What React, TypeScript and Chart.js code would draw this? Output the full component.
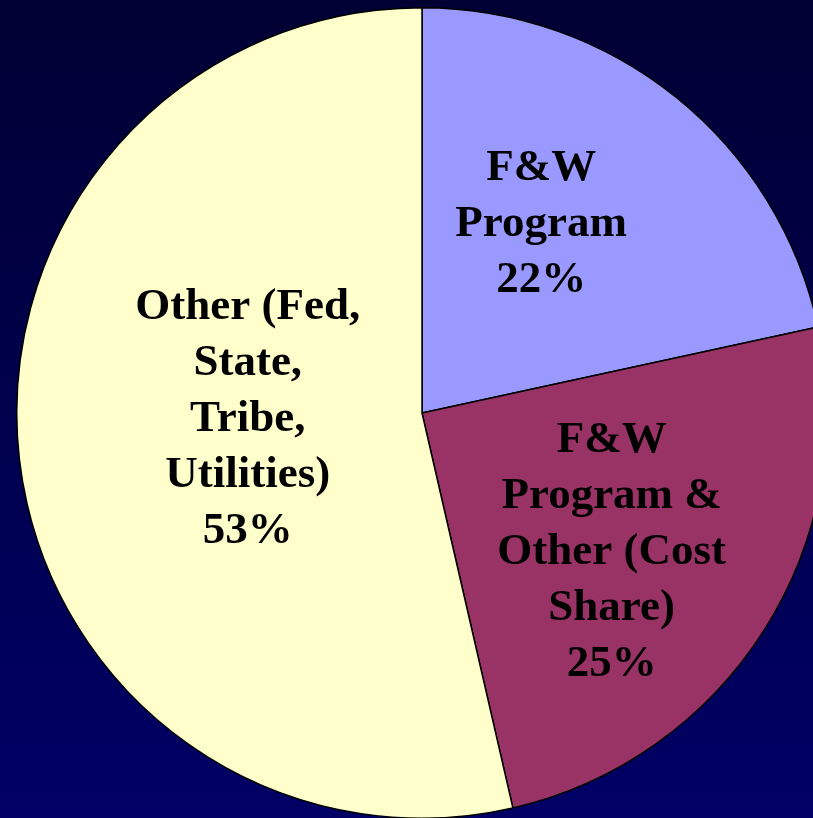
import React, { useEffect, useRef } from "react";
import { Chart, registerables } from "chart.js";

Chart.register(...registerables);

const categories: string[][] = [
  ["F&W", "Program"],
  ["F&W", "Program &", "Other (Cost", "Share)"],
  ["Other (Fed,", "State,", "Tribe,", "Utilities)"],
];
const values: number[] = [21.6, 24.8, 53.6];
const percentLabels: string[] = ["22%", "25%", "53%"];
const colors: string[] = ["#9999FF", "#993366", "#FFFFCC"];
// label anchor offsets, as fractions of the radius from the centre
const labelOffsets: [number, number][] = [
  [0.294, -0.465],
  [0.468, 0.345],
  [-0.43, 0.015],
];

const labelPlugin = {
  id: "sliceLabels",
  afterDatasetsDraw(chart: any) {
    const ctx = chart.ctx;
    const meta = chart.getDatasetMeta(0);
    ctx.save();
    ctx.font = "bold 45px 'Liberation Serif', 'Times New Roman', serif";
    ctx.fillStyle = "#000000";
    ctx.textAlign = "center";
    ctx.textBaseline = "middle";
    const lineH = 56;
    meta.data.forEach((arc: any, i: number) => {
      const { x, y, outerRadius } = arc.getProps(["x", "y", "outerRadius"], true);
      const lines = [...categories[i], percentLabels[i]];
      const cx = x + labelOffsets[i][0] * outerRadius;
      const cy = y + labelOffsets[i][1] * outerRadius;
      const startY = cy - ((lines.length - 1) * lineH) / 2;
      lines.forEach((t, k) => ctx.fillText(t, cx, startY + k * lineH));
    });
    ctx.restore();
  },
};

export default function App() {
  const ref = useRef<HTMLCanvasElement | null>(null);
  useEffect(() => {
    if (!ref.current) return;
    const chart = new Chart(ref.current, {
      type: "pie",
      data: {
        labels: categories.map((c) => c.join(" ")),
        datasets: [
          {
            data: values,
            backgroundColor: colors,
            borderColor: "#000000",
            borderWidth: 1.5,
            hoverOffset: 0,
          },
        ],
      },
      options: {
        responsive: false,
        animation: false,
        layout: { padding: 0 },
        plugins: {
          legend: { display: false },
          tooltip: { enabled: false },
        },
      },
      plugins: [labelPlugin],
    });
    return () => chart.destroy();
  }, []);
  return (
    <div
      style={{
        position: "fixed",
        left: 0,
        top: 0,
        width: 813,
        height: 818,
        overflow: "hidden",
        background: "linear-gradient(to bottom, #000033, #000066)",
      }}
    >
      <canvas
        ref={ref}
        width={812}
        height={812}
        style={{ position: "absolute", left: 16, top: 7, width: 812, height: 812 }}
      />
    </div>
  );
}
